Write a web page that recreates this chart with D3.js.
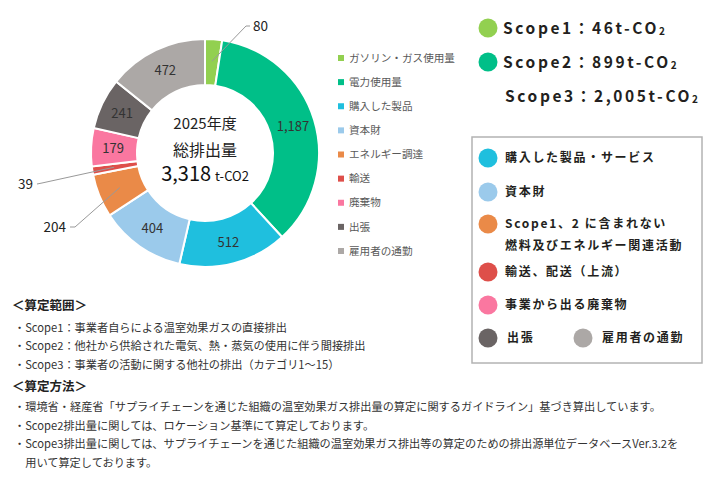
<!DOCTYPE html>
<html>
<head>
<meta charset="utf-8">
<script src="https://cdn.jsdelivr.net/npm/d3@7"></script>
<style>
  body { margin: 0; background: #fff; }
  svg { display: block; font-family: "Noto Sans CJK JP", "Noto Sans", sans-serif; }
  .seg-label { font-size: 13px; fill: #333; }
  .out-label { font-size: 13.5px; fill: #222; }
  .legend-text { font-size: 10.6px; fill: #595959; }
  .scope-text { font-size: 15.5px; font-weight: bold; fill: #231f20; letter-spacing: 2.6px; }
  .box-text { font-size: 12px; font-weight: bold; fill: #231f20; letter-spacing: 1.7px; }
  .note-head { font-size: 12.5px; font-weight: bold; fill: #222; }
  .note { font-size: 11.2px; fill: #333; }
</style>
</head>
<body>
<svg id="chart" width="710" height="480"></svg>
<script>
// DATA
const categories = ["ガソリン・ガス使用量", "電力使用量", "購入した製品", "資本財", "エネルギー調達", "輸送", "廃棄物", "出張", "雇用者の通勤"];
const values = [80, 1187, 512, 404, 204, 39, 179, 241, 472];
const colors = ["#92d050", "#00bf88", "#1fbfde", "#9bcaeb", "#ea8a48", "#de4f4a", "#fa77a0", "#6a6464", "#aca8a6"];

const totalYear = "2025年度";
const totalTitle = "総排出量";
const totalValue = "3,318";

const scopeLabels = ["Scope1：46t-CO", "Scope2：899t-CO", "Scope3：2,005t-CO"];
const scopeColors = ["#92d050", "#00bf88", null];

const scope3Items = [
  { lines: ["購入した製品・サービス"], color: "#1fbfde" },
  { lines: ["資本財"], color: "#9bcaeb" },
  { lines: ["Scope1、2 に含まれない", "燃料及びエネルギー関連活動"], color: "#ea8a48" },
  { lines: ["輸送、配送（上流）"], color: "#de4f4a" },
  { lines: ["事業から出る廃棄物"], color: "#fa77a0" }
];
const scope3Last = [
  { text: "出張", color: "#6a6464" },
  { text: "雇用者の通勤", color: "#aca8a6" }
];

const noteHead1 = "＜算定範囲＞";
const notes1 = [
  "・Scope1：事業者自らによる温室効果ガスの直接排出",
  "・Scope2：他社から供給された電気、熱・蒸気の使用に伴う間接排出",
  "・Scope3：事業者の活動に関する他社の排出（カテゴリ1～15）"
];
const noteHead2 = "＜算定方法＞";
const notes2 = [
  "・環境省・経産省「サプライチェーンを通じた組織の温室効果ガス排出量の算定に関するガイドライン」基づき算出しています。",
  "・Scope2排出量に関しては、ロケーション基準にて算定しております。",
  "・Scope3排出量に関しては、サプライチェーンを通じた組織の温室効果ガス排出等の算定のための排出源単位データベースVer.3.2を",
  "　用いて算定しております。"
];

// labels drawn outside the ring (small slices) : elbow / end offsets from center
const outside = {
  "ガソリン・ガス使用量": { elbow: [41, -127], end: [45, -127], anchor: "start" },
  "輸送": { elbow: [-163, 30], end: [-168, 31], anchor: "end" },
  "エネルギー調達": { elbow: [-130, 74], end: [-135, 74], anchor: "end" }
};

const fmt = d3.format(",");

const svg = d3.select("#chart");
const cx = 205, cy = 153;
const rInner = 68, rOuter = 114;

const g = svg.append("g").attr("transform", `translate(${cx},${cy})`);

const pie = d3.pie().sort(null).value(d => d.value);
const arcs = pie(categories.map((c, i) => ({ name: c, value: values[i], color: colors[i] })));
const arc = d3.arc().innerRadius(rInner).outerRadius(rOuter);
const labelArc = d3.arc().innerRadius(92).outerRadius(92);

g.selectAll("path.slice")
  .data(arcs)
  .join("path")
  .attr("class", "slice")
  .attr("d", arc)
  .attr("fill", d => d.data.color)
  .attr("stroke", "#fff")
  .attr("stroke-width", 2);

// inside labels
g.selectAll("text.seg-label")
  .data(arcs.filter(d => !outside[d.data.name]))
  .join("text")
  .attr("class", "seg-label")
  .attr("transform", d => `translate(${labelArc.centroid(d)})`)
  .attr("text-anchor", "middle")
  .attr("dy", "0.35em")
  .text(d => fmt(d.data.value));

// outside labels with leader lines
const outArcs = arcs.filter(d => outside[d.data.name]);
g.selectAll("polyline.leader")
  .data(outArcs)
  .join("polyline")
  .attr("class", "leader")
  .attr("fill", "none")
  .attr("stroke", "#999")
  .attr("stroke-width", 1)
  .attr("points", d => {
    const o = outside[d.data.name];
    return [labelArc.centroid(d), o.elbow, o.end].map(p => p.join(",")).join(" ");
  });

g.selectAll("text.out-label")
  .data(outArcs)
  .join("text")
  .attr("class", "out-label")
  .attr("x", d => outside[d.data.name].end[0] + (outside[d.data.name].anchor === "start" ? 3 : -4))
  .attr("y", d => outside[d.data.name].end[1])
  .attr("dy", "0.35em")
  .attr("text-anchor", d => outside[d.data.name].anchor)
  .text(d => fmt(d.data.value));

// center text
g.append("text").attr("text-anchor", "middle").attr("y", -29).attr("dy", "0.35em")
  .style("font-size", "15px").style("fill", "#222").text(totalYear);
g.append("text").attr("text-anchor", "middle").attr("y", -3).attr("dy", "0.35em")
  .style("font-size", "16px").style("fill", "#222").text(totalTitle);
const tv = g.append("text").attr("text-anchor", "middle").attr("y", 28).style("fill", "#111");
tv.append("tspan").style("font-size", "20px").text(totalValue);
tv.append("tspan").style("font-size", "13px").attr("dx", 4).text("t-CO2");

// legend
const legendY = d3.scalePoint().domain(categories).range([58, 251]);
const legend = svg.append("g").attr("class", "legend");
const li = legend.selectAll("g").data(categories).join("g")
  .attr("transform", d => `translate(338,${legendY(d)})`);
li.append("rect").attr("x", 0).attr("y", -3).attr("width", 6).attr("height", 6)
  .attr("fill", (d, i) => colors[i]);
li.append("text").attr("class", "legend-text").attr("x", 11).attr("dy", "0.35em").text(d => d);

// scope totals
const scopeY = d3.scalePoint().domain(scopeLabels).range([28, 96]);
const sg = svg.append("g").selectAll("g").data(scopeLabels).join("g")
  .attr("transform", d => `translate(0,${scopeY(d)})`);
sg.filter((d, i) => scopeColors[i])
  .append("circle").attr("cx", 488).attr("r", 9.5).attr("fill", (d) => scopeColors[scopeLabels.indexOf(d)]);
const st = sg.append("text").attr("class", "scope-text")
  .attr("x", (d, i) => i === 2 ? 505 : 503).attr("dy", "0.36em");
st.append("tspan").text(d => d);
st.append("tspan").style("font-size", "10px").attr("dy", 1).text("2");

// scope3 box
svg.append("rect").attr("x", 472).attr("y", 137).attr("width", 230).attr("height", 226)
  .attr("fill", "#fff").attr("stroke", "#b3b3b3").attr("stroke-width", 1.5);

const boxRows = [158, 192, 224, 272, 305];
const bx = svg.append("g").selectAll("g").data(scope3Items).join("g")
  .attr("transform", (d, i) => `translate(0,${boxRows[i]})`);
bx.append("circle").attr("cx", 488).attr("r", 9.5).attr("fill", d => d.color);
bx.each(function (d) {
  d3.select(this).selectAll("text").data(d.lines).join("text")
    .attr("class", "box-text").attr("x", 505).attr("y", (l, j) => j * 22).attr("dy", "0.35em")
    .text(l => l);
});

const lastRow = svg.append("g").attr("transform", "translate(0,338)");
const lastX = [488, 583];
lastRow.selectAll("circle").data(scope3Last).join("circle")
  .attr("cx", (d, i) => lastX[i]).attr("r", 9.5).attr("fill", d => d.color);
lastRow.selectAll("text").data(scope3Last).join("text")
  .attr("class", "box-text").attr("x", (d, i) => lastX[i] + 19).attr("dy", "0.35em")
  .text(d => d.text);

// notes
const notes = svg.append("g");
notes.append("text").attr("class", "note-head").attr("x", 12).attr("y", 306).attr("dy", "0.35em").text(noteHead1);
notes.selectAll("text.n1").data(notes1).join("text").attr("class", "note n1")
  .attr("x", 14).attr("y", (d, i) => 328 + i * 18.5).attr("dy", "0.35em").text(d => d);
notes.append("text").attr("class", "note-head").attr("x", 12).attr("y", 387).attr("dy", "0.35em").text(noteHead2);
notes.selectAll("text.n2").data(notes2).join("text").attr("class", "note n2")
  .attr("x", 14).attr("y", (d, i) => 407 + i * 18.7).attr("dy", "0.35em").text(d => d);
</script>
</body>
</html>
